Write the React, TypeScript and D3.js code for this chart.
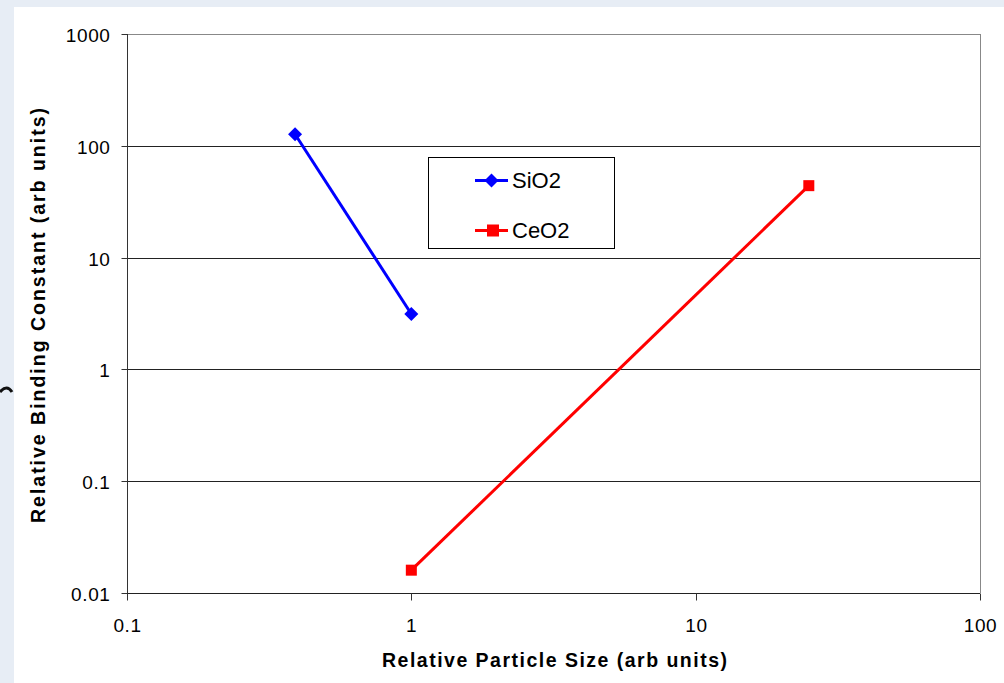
import React, { useEffect, useRef } from "react";
import * as d3 from "d3";

const sio2X = [0.39, 1];
const sio2Y = [127, 3.13];
const ceo2X = [1, 25];
const ceo2Y = [0.016, 44];
const xTicks = [0.1, 1, 10, 100];
const yTicks = [0.01, 0.1, 1, 10, 100, 1000];
const seriesNames = ["SiO2", "CeO2"];

const W = 1004, H = 683;
const L = 127, R = 980, T = 34, B = 593;

export default function App() {
  const ref = useRef<SVGSVGElement>(null);
  useEffect(() => {
    const svg = d3.select(ref.current);
    svg.selectAll("*").remove();
    const font = "'Liberation Sans', Arial, sans-serif";
    svg.append("rect").attr("width", W).attr("height", H).attr("fill", "#e7edf5");
    svg.append("rect").attr("x", 14).attr("y", 7).attr("width", W - 14).attr("height", H - 7).attr("fill", "#ffffff");
    svg.append("path").attr("d", "M0,392 Q7,384 12,392").attr("fill", "none").attr("stroke", "#111").attr("stroke-width", 3);

    const x = d3.scaleLog().domain([0.1, 100]).range([L, R]);
    const y = d3.scaleLog().domain([0.01, 1000]).range([B, T]);

    const g = svg.append("g");
    g.selectAll("line.grid").data(yTicks.slice(1)).enter().append("line")
      .attr("x1", L).attr("x2", R).attr("y1", (d) => Math.round(y(d)) + 0.5).attr("y2", (d) => Math.round(y(d)) + 0.5)
      .attr("stroke", (d) => (d === 1000 ? "#888" : "#222")).attr("stroke-width", 1);
    g.append("line").attr("x1", R + 0.5).attr("x2", R + 0.5).attr("y1", T).attr("y2", B).attr("stroke", "#888");

    const ya = g.append("g").attr("transform", `translate(${L + 0.5},0)`);
    ya.append("line").attr("y1", T).attr("y2", B).attr("stroke", "#333");
    yTicks.forEach((t) => {
      const yy = Math.round(y(t)) + 0.5;
      ya.append("line").attr("x1", -6).attr("x2", 0).attr("y1", yy).attr("y2", yy).attr("stroke", "#333");
      ya.append("text").attr("x", -17).attr("y", yy + 7).attr("text-anchor", "end")
        .attr("font-family", font).attr("font-size", 19).attr("letter-spacing", 0.6).attr("fill", "#000").text(String(t));
    });
    const xa = g.append("g").attr("transform", `translate(0,${B + 0.5})`);
    xa.append("line").attr("x1", L).attr("x2", R).attr("stroke", "#222");
    xTicks.forEach((t) => {
      const xx = Math.round(x(t)) + 0.5;
      xa.append("line").attr("x1", xx).attr("x2", xx).attr("y1", 0).attr("y2", 7).attr("stroke", "#333");
      xa.append("text").attr("x", xx).attr("y", 38).attr("text-anchor", "middle")
        .attr("font-family", font).attr("font-size", 19).attr("letter-spacing", 0.6).attr("fill", "#000").text(String(t));
    });

    svg.append("text").attr("x", 382).attr("y", 667)
      .attr("textLength", 345).attr("lengthAdjust", "spacing")
      .attr("font-family", font).attr("font-weight", "bold").attr("font-size", 19.5).text("Relative Particle Size (arb units)");
    svg.append("text").attr("transform", "translate(45,523) rotate(-90)")
      .attr("textLength", 415).attr("lengthAdjust", "spacing")
      .attr("font-family", font).attr("font-weight", "bold").attr("font-size", 19.5).text("Relative Binding Constant (arb units)");

    const line = d3.line<[number, number]>().x((d) => x(d[0])).y((d) => y(d[1]));
    const sData: [number, number][] = sio2X.map((v, i) => [v, sio2Y[i]]);
    const cData: [number, number][] = ceo2X.map((v, i) => [v, ceo2Y[i]]);
    g.append("path").attr("d", line(sData)!).attr("fill", "none").attr("stroke", "#0000ff").attr("stroke-width", 3);
    g.append("path").attr("d", line(cData)!).attr("fill", "none").attr("stroke", "#ff0000").attr("stroke-width", 3);
    const dia = (r: number) => `M0,${-r}L${r},0L0,${r}L${-r},0Z`;
    sData.forEach((d) => {
      g.append("path").attr("d", dia(7)).attr("transform", `translate(${x(d[0])},${y(d[1])})`).attr("fill", "#0000ff");
    });
    cData.forEach((d) => {
      g.append("rect").attr("x", x(d[0]) - 5.5).attr("y", y(d[1]) - 5.5).attr("width", 11).attr("height", 11).attr("fill", "#ff0000");
    });

    const lg = svg.append("g");
    lg.append("rect").attr("x", 428.5).attr("y", 157.5).attr("width", 186).attr("height", 91)
      .attr("fill", "#fff").attr("stroke", "#000").attr("stroke-width", 1);
    const colors = ["#0000ff", "#ff0000"];
    const rows = [180.5, 230.5];
    seriesNames.forEach((n, i) => {
      const yy = rows[i];
      lg.append("line").attr("x1", 475).attr("x2", 508).attr("y1", yy).attr("y2", yy).attr("stroke", colors[i]).attr("stroke-width", 3);
      if (i === 0) lg.append("path").attr("d", dia(7)).attr("transform", `translate(491.5,${yy})`).attr("fill", colors[i]);
      else lg.append("rect").attr("x", 487).attr("y", yy - 6).attr("width", 12).attr("height", 12).attr("fill", colors[i]);
      lg.append("text").attr("x", 512).attr("y", yy + 7.5).attr("font-family", font).attr("font-size", 22).text(n);
    });
  }, []);
  return (
    <svg ref={ref} width={W} height={H} style={{ position: "absolute", left: 0, top: 0, display: "block" }} />
  );
}
